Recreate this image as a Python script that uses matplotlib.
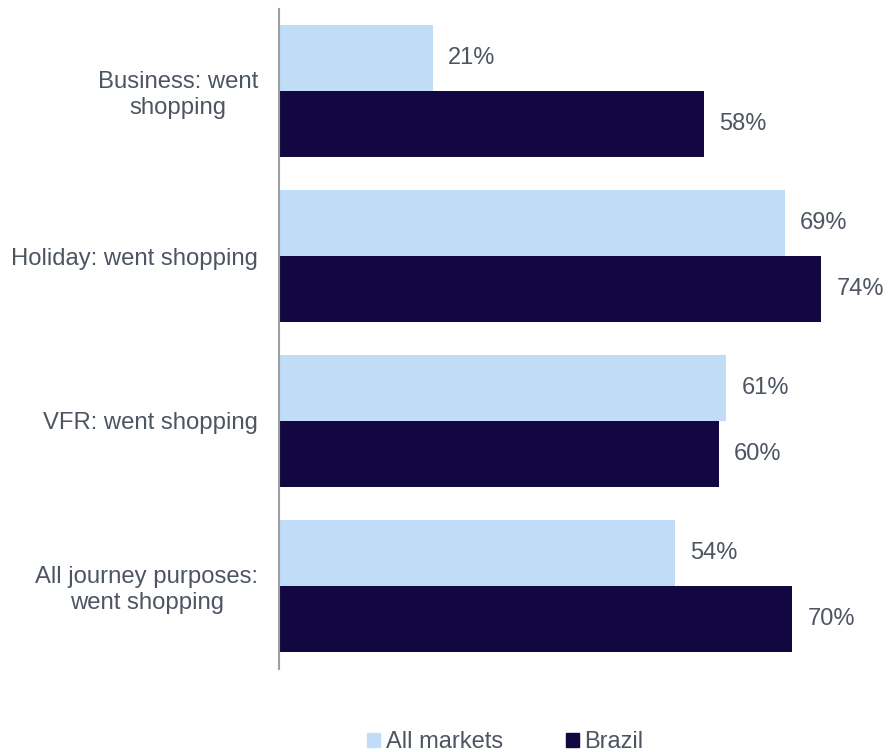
import numpy as np
import matplotlib.pyplot as plt
from matplotlib.patches import Patch

categories = ["Business: went\nshopping", "Holiday: went shopping",
              "VFR: went shopping", "All journey purposes:\nwent shopping"]
all_markets = [21, 69, 61, 54]
brazil = [58, 74, 60, 70]
series_names = ["All markets", "Brazil"]

light = "#C0DCF7"
dark = "#130742"
text_col = "#4D5563"

plt.rcParams['font.family'] = ['Liberation Sans', 'DejaVu Sans']

fig = plt.figure(figsize=(8.88, 7.52), dpi=100)
ax = fig.add_axes([279 / 888, 1 - 668.5 / 752, 586.4 / 888, 660 / 752])

y = np.arange(len(categories))
h = 0.4
ax.barh(y - h / 2, all_markets, height=h, color=light)
ax.barh(y + h / 2, brazil, height=h, color=dark)

for yi, v in zip(y, all_markets):
    ax.text(v + 2.1, yi - h / 2, f"{v}%", va="center", ha="left",
            fontsize=17, color=text_col)
for yi, v in zip(y, brazil):
    ax.text(v + 2.1, yi + h / 2, f"{v}%", va="center", ha="left",
            fontsize=17, color=text_col)

ax.set_xlim(0, 80)
ax.set_ylim(3.5, -0.5)
ax.set_yticks(y)
ax.set_yticklabels(categories, fontsize=17.2, color=text_col, multialignment="center")
ax.tick_params(axis="y", length=0, pad=15)
ax.set_xticks([])
for s in ["top", "right", "bottom"]:
    ax.spines[s].set_visible(False)
ax.spines["left"].set_color("#A0A0A0")
ax.spines["left"].set_linewidth(1.5)

handles = [Patch(color=light), Patch(color=dark)]
fig.legend(handles, series_names, loc="lower center", ncol=2,
           bbox_to_anchor=(0.569, -0.03), frameon=False, fontsize=17,
           handlelength=0.55, handleheight=0.55, handletextpad=0.25,
           columnspacing=2.65, labelcolor=text_col)

fig.savefig("out.png", dpi=100)
